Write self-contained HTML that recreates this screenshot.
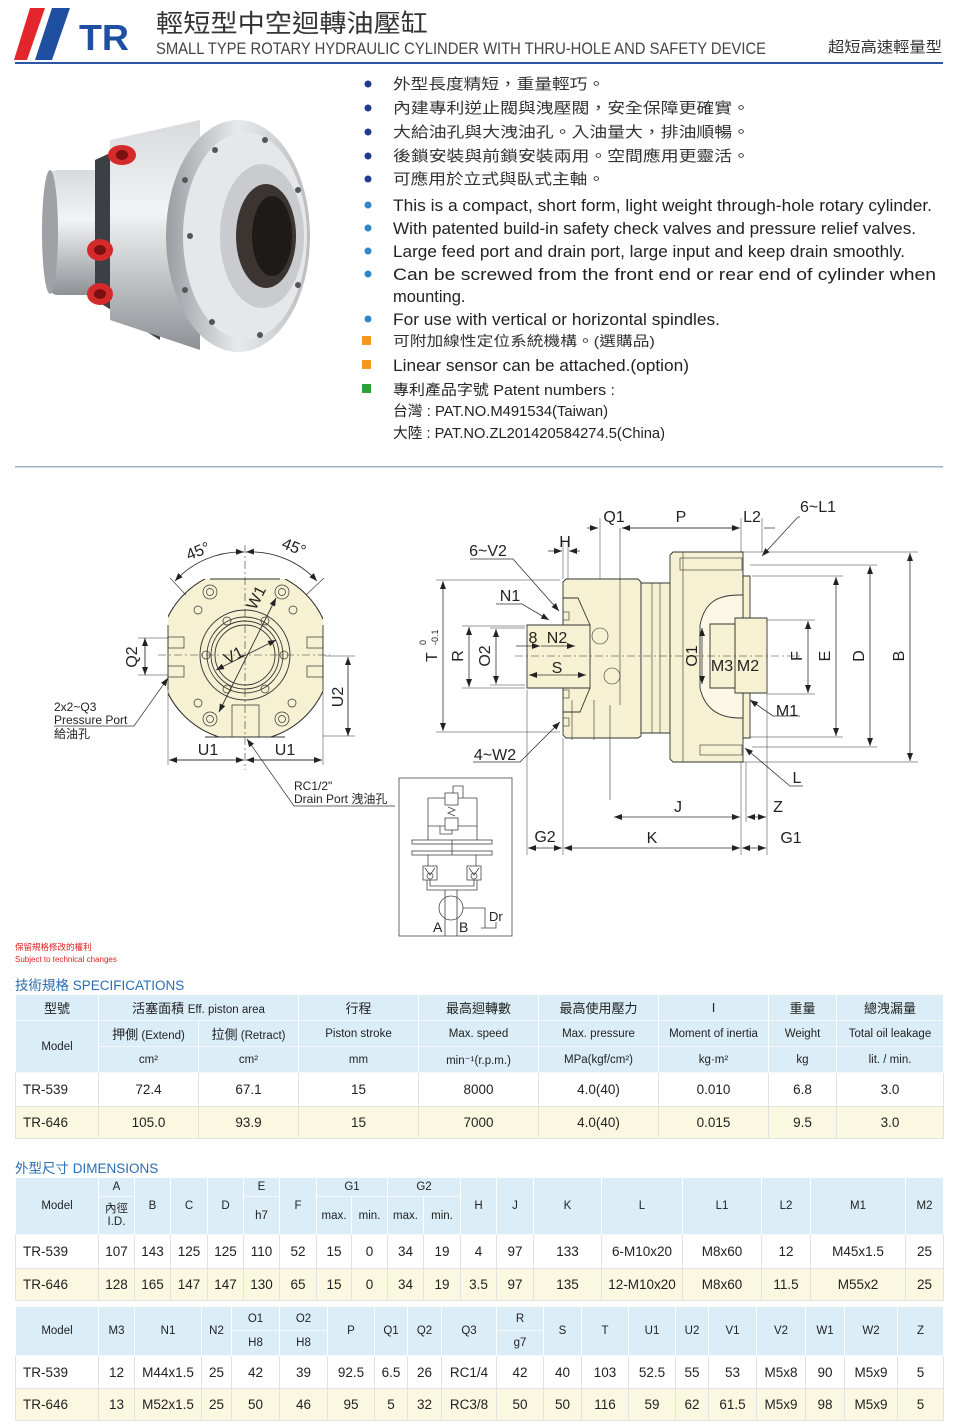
<!DOCTYPE html>
<html><head><meta charset="utf-8"><style>
body{margin:0;background:#fff;}
#pg{position:relative;width:960px;height:1428px;overflow:hidden;font-family:"Liberation Sans","Noto Sans CJK TC",sans-serif;}
svg text{font-family:"Liberation Sans","Noto Sans CJK TC",sans-serif;}
table{position:absolute;border-collapse:collapse;table-layout:fixed;font-family:"Liberation Sans","Noto Sans CJK TC",sans-serif;color:#222;}
td{border:1px solid #cfdde4;text-align:center;padding:0;overflow:hidden;white-space:nowrap;}
tr.h td{background:#dbeef8;border-color:#fff #ffffff #f4f8fa #fff;font-size:11.5px;}
tr.h td.b{font-size:13px;}
tr.d td{font-size:13.5px;background:#fff;border-color:#e2e2e2;}
tr.y td{background:#fbf8e1;}
td.l{text-align:left;padding-left:7px;}
.ttl{position:absolute;color:#2a6db3;font-size:13.5px;}
</style></head><body><div id="pg">
<svg width="960" height="970" viewBox="0 0 960 970" style="position:absolute;left:0;top:0">
<defs>
<linearGradient id="met" x1="0" y1="0" x2="0" y2="1"><stop offset="0" stop-color="#d8dadd"/><stop offset="0.4" stop-color="#f2f3f4"/><stop offset="1" stop-color="#8d9195"/></linearGradient>
<linearGradient id="met2" x1="0" y1="0" x2="1" y2="0"><stop offset="0" stop-color="#9a9ea3"/><stop offset="0.5" stop-color="#e8e9eb"/><stop offset="1" stop-color="#b9bcc0"/></linearGradient>
<marker id="a" markerWidth="8" markerHeight="6" refX="8" refY="3" orient="auto-start-reverse" markerUnits="userSpaceOnUse"><path d="M0,0L8,3L0,6z" fill="#222"/></marker>
</defs>
<!-- header -->
<polygon points="30,8 45,8 27,60 14,60" fill="#e3262c"/>
<polygon points="52,8 70,8 52,60 35,60" fill="#1f4fa0"/>
<text x="79" y="50" font-size="36" font-weight="bold" fill="#1f4fa0" textLength="50" lengthAdjust="spacingAndGlyphs">TR</text>
<text x="156" y="32" font-size="25" fill="#333" textLength="272" lengthAdjust="spacingAndGlyphs">輕短型中空迴轉油壓缸</text>
<text x="156" y="54" font-size="17" fill="#444" textLength="610" lengthAdjust="spacingAndGlyphs">SMALL TYPE  ROTARY HYDRAULIC CYLINDER WITH THRU-HOLE AND SAFETY DEVICE</text>
<text x="828" y="52" font-size="15" fill="#333" textLength="114" lengthAdjust="spacingAndGlyphs">超短高速輕量型</text>
<rect x="15" y="62" width="928" height="2" fill="#2e56a6"/>
<!-- photo -->
<g>
<rect x="48" y="170" width="80" height="125" rx="10" fill="url(#met)"/>
<ellipse cx="50" cy="232" rx="8" ry="62" fill="#9ea2a6"/>
<path d="M95,160 L160,130 L160,340 L95,300 Z" fill="#3c3f43"/>
<path d="M110,140 L200,120 L200,350 L110,320 Z" fill="url(#met)"/>
<ellipse cx="238" cy="236" rx="72" ry="116" fill="url(#met2)"/>
<ellipse cx="245" cy="236" rx="62" ry="104" fill="#e6e7e9"/>
<ellipse cx="262" cy="236" rx="42" ry="72" fill="#c9cbce"/>
<ellipse cx="266" cy="236" rx="30" ry="52" fill="#3b3430"/>
<ellipse cx="272" cy="236" rx="20" ry="40" fill="#1e1a18"/>
<g fill="#555"><circle cx="215" cy="150" r="3"/><circle cx="265" cy="140" r="3"/><circle cx="298" cy="190" r="3"/><circle cx="298" cy="285" r="3"/><circle cx="260" cy="335" r="3"/><circle cx="212" cy="322" r="3"/><circle cx="190" cy="236" r="3"/><circle cx="185" cy="180" r="3"/><circle cx="185" cy="290" r="3"/></g>
<ellipse cx="122" cy="155" rx="14" ry="10" fill="#d42a2a"/><ellipse cx="122" cy="155" rx="6" ry="5" fill="#7a1010"/>
<ellipse cx="100" cy="250" rx="13" ry="11" fill="#d42a2a"/><ellipse cx="100" cy="250" rx="6" ry="5" fill="#7a1010"/>
<ellipse cx="100" cy="294" rx="13" ry="11" fill="#d42a2a"/><ellipse cx="100" cy="294" rx="6" ry="5" fill="#7a1010"/>
</g>
<!-- bullets -->
<g fill="#1f3a93"><circle cx="368" cy="84" r="3.5"/><circle cx="368" cy="108" r="3.5"/><circle cx="368" cy="132" r="3.5"/><circle cx="368" cy="156" r="3.5"/><circle cx="368" cy="179" r="3.5"/></g>
<g fill="#2f86c9"><circle cx="368" cy="205" r="3.5"/><circle cx="368" cy="228" r="3.5"/><circle cx="368" cy="251" r="3.5"/><circle cx="368" cy="274" r="3.5"/><circle cx="368" cy="319" r="3.5"/></g>
<rect x="362" y="336" width="9" height="9" fill="#f39a1e"/><rect x="362" y="360" width="9" height="9" fill="#f39a1e"/><rect x="362" y="384" width="9" height="9" fill="#2ba13b"/>
<g font-size="15" fill="#333">
<text x="393" y="89" textLength="212" lengthAdjust="spacingAndGlyphs">外型長度精短，重量輕巧。</text>
<text x="393" y="113" textLength="357" lengthAdjust="spacingAndGlyphs">內建專利逆止閥與洩壓閥，安全保障更確實。</text>
<text x="393" y="137" textLength="357" lengthAdjust="spacingAndGlyphs">大給油孔與大洩油孔。入油量大，排油順暢。</text>
<text x="393" y="161" textLength="357" lengthAdjust="spacingAndGlyphs">後鎖安裝與前鎖安裝兩用。空間應用更靈活。</text>
<text x="393" y="184" textLength="212" lengthAdjust="spacingAndGlyphs">可應用於立式與臥式主軸。</text>
<text x="393" y="346" textLength="262" lengthAdjust="spacingAndGlyphs" font-size="14">可附加線性定位系統機構。(選購品)</text>
</g>
<g font-size="16.5" fill="#222">
<text x="393" y="211" textLength="539" lengthAdjust="spacingAndGlyphs">This is a compact, short form, light weight through-hole rotary cylinder.</text>
<text x="393" y="234" textLength="523" lengthAdjust="spacingAndGlyphs">With patented build-in safety check valves and pressure relief valves.</text>
<text x="393" y="257" textLength="512" lengthAdjust="spacingAndGlyphs">Large feed port and drain port, large input and keep drain smoothly.</text>
<text x="393" y="280" textLength="543" lengthAdjust="spacingAndGlyphs">Can be screwed from the front end or rear end of cylinder when</text>
<text x="393" y="302">mounting.</text>
<text x="393" y="325" textLength="327" lengthAdjust="spacingAndGlyphs">For use with vertical or horizontal spindles.</text>
<text x="393" y="371" textLength="296" lengthAdjust="spacingAndGlyphs">Linear sensor can be attached.(option)</text>
</g>
<g font-size="14.5" fill="#222">
<text x="393" y="395" textLength="222" lengthAdjust="spacingAndGlyphs">專利產品字號  Patent numbers :</text>
<text x="393" y="416" textLength="215" lengthAdjust="spacingAndGlyphs">台灣 : PAT.NO.M491534(Taiwan)</text>
<text x="393" y="438" textLength="272" lengthAdjust="spacingAndGlyphs">大陸 : PAT.NO.ZL201420584274.5(China)</text>
</g>
<rect x="15" y="466" width="928" height="1.5" fill="#9fb3c4"/>

<!-- FRONT VIEW -->
<clipPath id="cf"><rect x="168" y="579" width="155" height="158"/></clipPath>
<g stroke="#333" stroke-width="0.9" fill="none">
<circle cx="245" cy="655" r="86" fill="#f6f1d2" clip-path="url(#cf)"/>
<g clip-path="url(#cf)"><circle cx="245" cy="655" r="86"/></g>
<line x1="210" y1="579" x2="280" y2="579"/><line x1="168" y1="625" x2="168" y2="690"/><line x1="323" y1="625" x2="323" y2="690"/><line x1="205" y1="737" x2="285" y2="737"/>
<circle cx="245" cy="655" r="45"/><circle cx="245" cy="655" r="38"/><circle cx="245" cy="655" r="34"/><circle cx="245" cy="655" r="30" fill="#f6f1d2"/>
<g stroke-width="0.7">
<circle cx="206" cy="655" r="4"/><circle cx="284" cy="655" r="4"/><circle cx="227" cy="621" r="4"/><circle cx="265" cy="621" r="4"/><circle cx="227" cy="689" r="4"/><circle cx="265" cy="689" r="4"/>
<circle cx="210" cy="592" r="7"/><circle cx="210" cy="592" r="3.5"/><circle cx="282" cy="592" r="7"/><circle cx="282" cy="592" r="3.5"/>
<circle cx="210" cy="719" r="7"/><circle cx="210" cy="719" r="3.5"/><circle cx="282" cy="719" r="7"/><circle cx="282" cy="719" r="3.5"/>
<circle cx="198" cy="610" r="4"/><circle cx="293" cy="610" r="4"/><circle cx="198" cy="703" r="4"/><circle cx="292" cy="703" r="4"/>
<rect x="168" y="637" width="16" height="11"/><rect x="168" y="666" width="16" height="11"/><rect x="307" y="637" width="16" height="11"/><rect x="307" y="666" width="16" height="11"/>
<path d="M232,737 L232,705 L259,705 L259,737"/>
</g>
<g stroke-dasharray="8,3,2,3" stroke-width="0.6"><line x1="245" y1="545" x2="245" y2="770"/><line x1="158" y1="655" x2="330" y2="655"/></g>
<!-- dims -->
<line x1="145" y1="638" x2="145" y2="675" marker-start="url(#a)" marker-end="url(#a)"/>
<line x1="138" y1="638" x2="168" y2="638" stroke-width="0.5"/><line x1="138" y1="675" x2="168" y2="675" stroke-width="0.5"/>
<line x1="348" y1="657" x2="348" y2="736" marker-start="url(#a)" marker-end="url(#a)"/>
<line x1="323" y1="736" x2="355" y2="736" stroke-width="0.5"/><line x1="325" y1="656" x2="355" y2="656" stroke-width="0.5"/>
<line x1="168" y1="690" x2="168" y2="765" stroke-width="0.5"/><line x1="323" y1="690" x2="323" y2="765" stroke-width="0.5"/>
<line x1="169" y1="760" x2="244" y2="760" marker-start="url(#a)" marker-end="url(#a)"/>
<line x1="246" y1="760" x2="322" y2="760" marker-start="url(#a)" marker-end="url(#a)"/>
<path d="M175,581 A90,90 0 0 1 244,552" marker-start="url(#a)" marker-end="url(#a)"/>
<path d="M246,552 A90,90 0 0 1 317,581" marker-start="url(#a)" marker-end="url(#a)"/>
<line x1="170" y1="578" x2="186" y2="595" stroke-width="0.6"/><line x1="324" y1="578" x2="306" y2="595" stroke-width="0.6"/>
<line x1="219" y1="712" x2="276" y2="598" marker-start="url(#a)" marker-end="url(#a)"/>
<line x1="216" y1="670" x2="276" y2="640" marker-start="url(#a)" marker-end="url(#a)"/>
<path d="M54,726 L134,726 L168,678" stroke-width="0.7" marker-end="url(#a)"/>
<path d="M395,806 L294,806 L247,739" stroke-width="0.7" marker-end="url(#a)"/>
</g>
<g font-size="16" fill="#222">
<text transform="translate(200,556) rotate(-22)" text-anchor="middle">45°</text>
<text transform="translate(292,552) rotate(22)" text-anchor="middle">45°</text>
<text transform="translate(261,600) rotate(-63)" text-anchor="middle">W1</text>
<text transform="translate(236,660) rotate(-27)" text-anchor="middle">V1</text>
<text transform="translate(137,657) rotate(-90)" text-anchor="middle">Q2</text>
<text transform="translate(343,697) rotate(-90)" text-anchor="middle">U2</text>
<text x="208" y="755" text-anchor="middle">U1</text><text x="285" y="755" text-anchor="middle">U1</text>
</g>
<g font-size="12" fill="#222">
<text x="54" y="711">2x2~Q3</text><text x="54" y="724">Pressure Port</text><text x="54" y="738">給油孔</text>
<text x="294" y="790">RC1/2"</text><text x="294" y="803">Drain Port  洩油孔</text>
</g>

<!-- circuit -->
<g stroke="#444" stroke-width="0.8" fill="none">
<rect x="399" y="778" width="113" height="158"/>
<rect x="445" y="793" width="13" height="12" fill="#fff"/><rect x="445" y="818" width="13" height="12" fill="#fff"/>
<path d="M428,798 L445,798 M458,798 L477,798 M428,826 L445,826 M458,826 L477,826 M428,798 L428,840 M477,798 L477,840"/>
<path d="M453,793 L453,786 L463,786 L463,798 M440,826 L440,834 L452,834 L452,830"/>
<path d="M448,807 L455,810 L448,813 L455,816"/>
<rect x="412" y="840" width="80" height="4"/><rect x="412" y="851" width="80" height="4"/>
<path d="M452,840 L452,855 M428,855 L428,866 M476,855 L476,866"/>
<rect x="423" y="866" width="14" height="14"/><rect x="467" y="866" width="14" height="14"/>
<path d="M425,868 L430,875 L435,868 M469,868 L474,875 L479,868"/><circle cx="430" cy="876" r="3"/><circle cx="474" cy="876" r="3"/>
<path d="M430,880 L430,886 L474,886 L474,880 M427,880 L427,890 L477,890 L477,880 M445,890 L445,896 M457,890 L457,896"/>
<circle cx="451" cy="908" r="12"/>
<path d="M445,896 L445,936 M457,896 L457,936 M463,908 L485,908 L485,928 M481,928 L496,928 L496,922"/>
</g>
<g font-size="14" fill="#222"><text x="433" y="932">A</text><text x="459" y="932">B</text><text x="489" y="921" font-size="13">Dr</text></g>

<!-- SIDE VIEW -->
<g stroke="#333" stroke-width="0.9" fill="#f6f1d2">
<path d="M563,582 L566,579 L638,579 L641,582 L641,736 L638,738 L566,738 L563,735 Z"/>
<path d="M641,583 L670,583 L670,733 L641,733 Z"/>
<path d="M670,555 L673,552 L743,552 L743,762 L673,762 L670,759 Z"/>
<path d="M743,576 L750,576 L750,738 L743,738 Z"/>
<path d="M527,625 L590,625 L590,688 L527,688 Z"/>
<path d="M563,598 L578,598 L590,625 M563,712 L580,712 L590,688" fill="none"/>
<path d="M700,625 C705,600 720,595 740,595 L743,595 L743,718 L740,718 C720,718 705,710 700,688 Z" fill="#fbf8e6"/>
<path d="M735,618 L767,618 L767,693 L735,693 Z"/>
<path d="M710,624 L735,624 L735,688 L710,688 Z"/>
</g>
<g stroke="#333" stroke-width="0.6" fill="none">
<line x1="652" y1="583" x2="652" y2="733"/><line x1="660" y1="583" x2="660" y2="733"/>
<line x1="683" y1="552" x2="683" y2="762"/>
<rect x="680" y="558" width="62" height="12"/><rect x="700" y="745" width="42" height="10"/>
<circle cx="600" cy="636" r="8"/><circle cx="612" cy="676" r="8"/>
<line x1="620" y1="528" x2="620" y2="705"/><line x1="610" y1="705" x2="610" y2="800"/>
<rect x="563" y="612" width="6" height="8"/><rect x="563" y="690" width="6" height="8"/><rect x="563" y="718" width="6" height="8"/>
<line x1="572" y1="700" x2="572" y2="740"/><line x1="594" y1="700" x2="594" y2="740"/>
</g>
<g stroke-dasharray="8,3,2,3" stroke-width="0.6" stroke="#333"><line x1="515" y1="656" x2="800" y2="656"/></g>
<g stroke="#333" stroke-width="0.8" fill="none">
<!-- extension lines -->
<path d="M436,580 L560,580 M436,732 L560,732 M462,626 L525,626 M462,688 L525,688 M490,628 L525,628 M490,685 L525,685" stroke-width="0.5"/>
<path d="M743,552 L918,552 M750,565 L877,565 M752,576 L843,576 M750,737 L843,737 M752,747 L877,747 M743,762 L918,762 M767,620 L815,620 M767,694 L815,694" stroke-width="0.5"/>
<path d="M527,690 L527,855 M563,738 L563,855 M741,762 L741,855 M767,694 L767,855 M563,540 L563,579 M568,540 L568,579 M600,518 L600,579 M741,518 L741,552 M762,518 L762,552 M746,762 L746,822" stroke-width="0.5"/>
<line x1="443" y1="581" x2="443" y2="731" marker-start="url(#a)" marker-end="url(#a)"/>
<line x1="469" y1="627" x2="469" y2="687" marker-start="url(#a)" marker-end="url(#a)"/>
<line x1="496" y1="629" x2="496" y2="684" marker-start="url(#a)" marker-end="url(#a)"/>
<line x1="910" y1="553" x2="910" y2="761" marker-start="url(#a)" marker-end="url(#a)"/>
<line x1="870" y1="566" x2="870" y2="746" marker-start="url(#a)" marker-end="url(#a)"/>
<line x1="836" y1="577" x2="836" y2="736" marker-start="url(#a)" marker-end="url(#a)"/>
<line x1="808" y1="621" x2="808" y2="693" marker-start="url(#a)" marker-end="url(#a)"/>
<line x1="528" y1="848" x2="562" y2="848" marker-start="url(#a)" marker-end="url(#a)"/>
<line x1="564" y1="848" x2="740" y2="848" marker-start="url(#a)" marker-end="url(#a)"/>
<line x1="742" y1="848" x2="766" y2="848" marker-start="url(#a)" marker-end="url(#a)"/>
<line x1="614" y1="817" x2="740" y2="817" marker-start="url(#a)" marker-end="url(#a)"/>
<line x1="747" y1="817" x2="766" y2="817" marker-start="url(#a)" marker-end="url(#a)"/>
<path d="M598,528 L587,528 M622,528 L740,528 M764,528 L775,528" marker-start="url(#a)"/>
<line x1="622" y1="528" x2="740" y2="528" marker-start="url(#a)" marker-end="url(#a)"/>
<line x1="548" y1="551" x2="562" y2="551" marker-end="url(#a)"/><line x1="580" y1="551" x2="569" y2="551" marker-end="url(#a)"/>
<path d="M800,517 L798,517 L762,556" marker-end="url(#a)"/>
<path d="M470,559 L513,559 L559,611" marker-end="url(#a)"/>
<path d="M496,604 L522,604 L549,620" marker-end="url(#a)"/>
<path d="M473,762 L520,762 L560,722" marker-end="url(#a)"/>
<path d="M800,716 L773,716 L750,700" marker-end="url(#a)"/>
<path d="M803,786 L790,786 L745,748" marker-end="url(#a)"/>
<line x1="516" y1="646" x2="540" y2="646" marker-end="url(#a)"/><line x1="541" y1="646" x2="575" y2="646" marker-end="url(#a)"/>
<line x1="529" y1="675" x2="586" y2="675" marker-start="url(#a)" marker-end="url(#a)"/>
<line x1="702" y1="628" x2="702" y2="684" marker-start="url(#a)" marker-end="url(#a)"/>
</g>
<g font-size="16" fill="#222">
<text x="614" y="522" text-anchor="middle">Q1</text><text x="681" y="522" text-anchor="middle">P</text><text x="752" y="522" text-anchor="middle">L2</text>
<text x="818" y="512" text-anchor="middle">6~L1</text><text x="565" y="547" text-anchor="middle">H</text>
<text x="488" y="556" text-anchor="middle">6~V2</text><text x="510" y="601" text-anchor="middle">N1</text>
<text x="533" y="643" text-anchor="middle">8</text><text x="557" y="643" text-anchor="middle">N2</text><text x="557" y="673" text-anchor="middle">S</text>
<text x="722" y="671" text-anchor="middle">M3</text><text x="748" y="671" text-anchor="middle">M2</text>
<text x="787" y="716" text-anchor="middle">M1</text><text x="495" y="760" text-anchor="middle">4~W2</text>
<text x="797" y="783" text-anchor="middle">L</text><text x="678" y="812" text-anchor="middle">J</text><text x="778" y="812" text-anchor="middle">Z</text>
<text x="545" y="842" text-anchor="middle">G2</text><text x="652" y="843" text-anchor="middle">K</text><text x="791" y="843" text-anchor="middle">G1</text>
<text transform="translate(463,656) rotate(-90)" text-anchor="middle">R</text>
<text transform="translate(490,656) rotate(-90)" text-anchor="middle">O2</text>
<text transform="translate(697,656) rotate(-90)" text-anchor="middle">O1</text>
<text transform="translate(802,656) rotate(-90)" text-anchor="middle">F</text>
<text transform="translate(830,656) rotate(-90)" text-anchor="middle">E</text>
<text transform="translate(864,656) rotate(-90)" text-anchor="middle">D</text>
<text transform="translate(904,656) rotate(-90)" text-anchor="middle">B</text>
<text transform="translate(437,662) rotate(-90)" text-anchor="start">T</text>
<text transform="translate(426,645) rotate(-90)" font-size="9">0</text>
<text transform="translate(438,645) rotate(-90)" font-size="9">-0.1</text>
</g>
<text x="15" y="950" font-size="8.5" fill="#d22">保留規格修改的權利</text>
<text x="15" y="962" font-size="8" fill="#d22">Subject to technical changes</text>
</svg>

<div class="ttl" style="left:15px;top:974px">技術規格 SPECIFICATIONS</div>
<table style="left:15px;top:994px;width:928px">
<colgroup><col style="width:83px"><col style="width:100px"><col style="width:100px"><col style="width:120px"><col style="width:120px"><col style="width:120px"><col style="width:110px"><col style="width:68px"><col style="width:107px"></colgroup>
<tr class="h" style="height:26px"><td class="b">型號</td><td class="b" colspan="2">活塞面積 <span style="font-size:11.5px">Eff. piston area</span></td><td class="b">行程</td><td class="b">最高迴轉數</td><td class="b">最高使用壓力</td><td class="b">I</td><td class="b">重量</td><td class="b">總洩漏量</td></tr>
<tr class="h" style="height:26px"><td rowspan="2">Model</td><td><span style="font-size:13px">押側</span> (Extend)</td><td><span style="font-size:13px">拉側</span> (Retract)</td><td>Piston stroke</td><td>Max. speed</td><td>Max. pressure</td><td>Moment of inertia</td><td>Weight</td><td>Total oil leakage</td></tr>
<tr class="h" style="height:26px"><td>cm²</td><td>cm²</td><td>mm</td><td>min⁻¹(r.p.m.)</td><td>MPa(kgf/cm²)</td><td>kg·m²</td><td>kg</td><td>lit. / min.</td></tr>
<tr class="d" style="height:34px"><td class="l">TR-539</td><td>72.4</td><td>67.1</td><td>15</td><td>8000</td><td>4.0(40)</td><td>0.010</td><td>6.8</td><td>3.0</td></tr>
<tr class="d y" style="height:32px"><td class="l">TR-646</td><td>105.0</td><td>93.9</td><td>15</td><td>7000</td><td>4.0(40)</td><td>0.015</td><td>9.5</td><td>3.0</td></tr>
</table>

<div class="ttl" style="left:15px;top:1157px">外型尺寸 DIMENSIONS</div>
<table style="left:15px;top:1177px;width:928px">
<colgroup><col style="width:83px"><col style="width:36px"><col style="width:36px"><col style="width:37px"><col style="width:36px"><col style="width:36px"><col style="width:37px"><col style="width:35px"><col style="width:36px"><col style="width:36px"><col style="width:37px"><col style="width:36px"><col style="width:37px"><col style="width:68px"><col style="width:81px"><col style="width:79px"><col style="width:49px"><col style="width:95px"><col style="width:38px"></colgroup>
<tr class="h" style="height:19px"><td rowspan="2">Model</td><td>A</td><td rowspan="2">B</td><td rowspan="2">C</td><td rowspan="2">D</td><td>E</td><td rowspan="2">F</td><td colspan="2">G1</td><td colspan="2">G2</td><td rowspan="2">H</td><td rowspan="2">J</td><td rowspan="2">K</td><td rowspan="2">L</td><td rowspan="2">L1</td><td rowspan="2">L2</td><td rowspan="2">M1</td><td rowspan="2">M2</td></tr>
<tr class="h" style="height:38px"><td style="line-height:13px">內徑<br>I.D.</td><td>h7</td><td>max.</td><td>min.</td><td>max.</td><td>min.</td></tr>
<tr class="d" style="height:34px"><td class="l">TR-539</td><td>107</td><td>143</td><td>125</td><td>125</td><td>110</td><td>52</td><td>15</td><td>0</td><td>34</td><td>19</td><td>4</td><td>97</td><td>133</td><td>6-M10x20</td><td>M8x60</td><td>12</td><td>M45x1.5</td><td>25</td></tr>
<tr class="d y" style="height:32px"><td class="l">TR-646</td><td>128</td><td>165</td><td>147</td><td>147</td><td>130</td><td>65</td><td>15</td><td>0</td><td>34</td><td>19</td><td>3.5</td><td>97</td><td>135</td><td>12-M10x20</td><td>M8x60</td><td>11.5</td><td>M55x2</td><td>25</td></tr>
</table>

<table style="left:15px;top:1306px;width:928px">
<colgroup><col style="width:83px"><col style="width:36px"><col style="width:67px"><col style="width:30px"><col style="width:48px"><col style="width:48px"><col style="width:47px"><col style="width:33px"><col style="width:34px"><col style="width:55px"><col style="width:47px"><col style="width:38px"><col style="width:47px"><col style="width:47px"><col style="width:33px"><col style="width:48px"><col style="width:49px"><col style="width:39px"><col style="width:53px"><col style="width:46px"></colgroup>
<tr class="h" style="height:24px"><td rowspan="2">Model</td><td rowspan="2">M3</td><td rowspan="2">N1</td><td rowspan="2">N2</td><td>O1</td><td>O2</td><td rowspan="2">P</td><td rowspan="2">Q1</td><td rowspan="2">Q2</td><td rowspan="2">Q3</td><td>R</td><td rowspan="2">S</td><td rowspan="2">T</td><td rowspan="2">U1</td><td rowspan="2">U2</td><td rowspan="2">V1</td><td rowspan="2">V2</td><td rowspan="2">W1</td><td rowspan="2">W2</td><td rowspan="2">Z</td></tr>
<tr class="h" style="height:25px"><td>H8</td><td>H8</td><td>g7</td></tr>
<tr class="d" style="height:33px"><td class="l">TR-539</td><td>12</td><td>M44x1.5</td><td>25</td><td>42</td><td>39</td><td>92.5</td><td>6.5</td><td>26</td><td>RC1/4</td><td>42</td><td>40</td><td>103</td><td>52.5</td><td>55</td><td>53</td><td>M5x8</td><td>90</td><td>M5x9</td><td>5</td></tr>
<tr class="d y" style="height:32px"><td class="l">TR-646</td><td>13</td><td>M52x1.5</td><td>25</td><td>50</td><td>46</td><td>95</td><td>5</td><td>32</td><td>RC3/8</td><td>50</td><td>50</td><td>116</td><td>59</td><td>62</td><td>61.5</td><td>M5x9</td><td>98</td><td>M5x9</td><td>5</td></tr>
</table>
</div></body></html>
